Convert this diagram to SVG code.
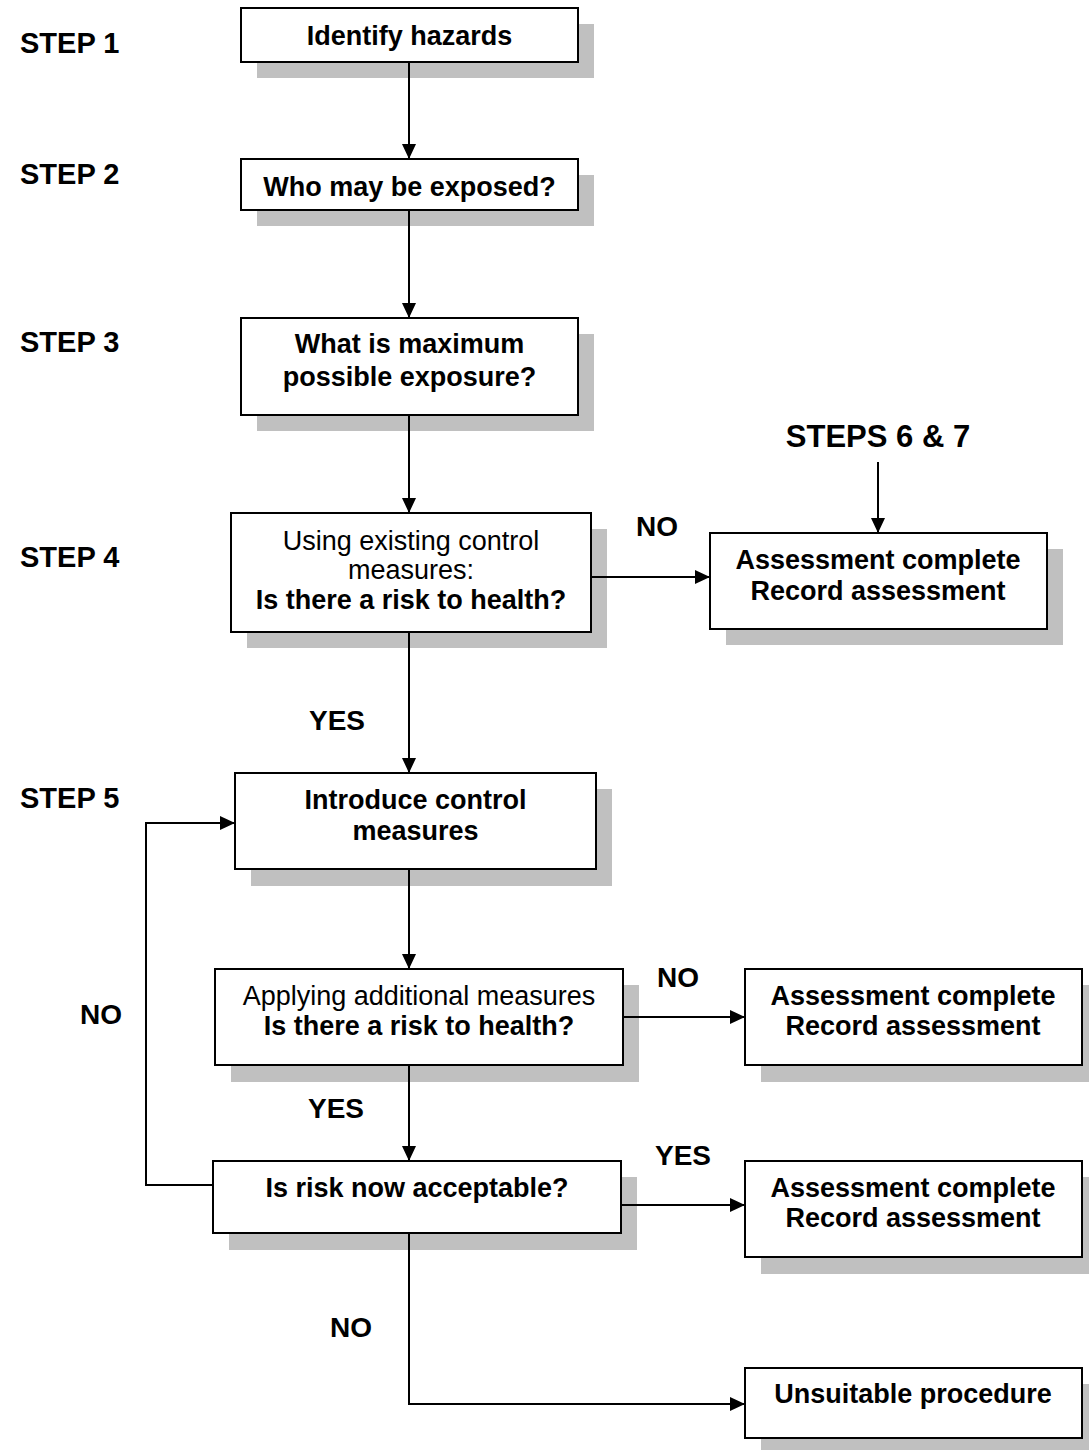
<svg xmlns="http://www.w3.org/2000/svg" width="1089" height="1450" viewBox="0 0 1089 1450">
  <style>
    text { font-family: "Liberation Sans", Arial, Helvetica, sans-serif; fill: #000; }
    .b { font-weight: bold; font-size: 27px; text-anchor: middle; }
    .r { font-weight: normal; font-size: 27px; text-anchor: middle; }
    .step { font-weight: bold; font-size: 29px; }
    .lbl { font-weight: bold; font-size: 28px; }
    .box { fill: #fff; stroke: #000; stroke-width: 2; }
    .shadow { fill: #c0c0c0; stroke: none; }
    .conn { fill: none; stroke: #000; stroke-width: 2; }
  </style>
  <defs>
    <marker id="arrow" markerUnits="userSpaceOnUse" markerWidth="15" markerHeight="14" viewBox="0 0 15 14" refX="15" refY="7" orient="auto">
      <path d="M0,0 L15,7 L0,14 z" fill="#000"/>
    </marker>
  </defs>
  <rect width="1089" height="1450" fill="#fff"/>

  <g id="step-labels">
    <text class="step" x="20" y="53">STEP 1</text>
    <text class="step" x="20" y="184">STEP 2</text>
    <text class="step" x="20" y="352">STEP 3</text>
    <text class="step" x="20" y="567">STEP 4</text>
    <text class="step" x="20" y="808">STEP 5</text>
    <text class="step" x="878" y="447" text-anchor="middle" style="font-size:31px">STEPS 6 &amp; 7</text>
  </g>

  <g id="n1">
    <rect class="shadow" x="257" y="24" width="337" height="54"/>
    <rect class="box" x="241" y="8" width="337" height="54"/>
    <text class="b" x="409.5" y="45">Identify hazards</text>
  </g>
  <g id="n2">
    <rect class="shadow" x="257" y="175" width="337" height="51"/>
    <rect class="box" x="241" y="159" width="337" height="51"/>
    <text class="b" x="409.5" y="196">Who may be exposed?</text>
  </g>
  <g id="n3">
    <rect class="shadow" x="257" y="334" width="337" height="97"/>
    <rect class="box" x="241" y="318" width="337" height="97"/>
    <text class="b" x="409.5" y="353">What is maximum</text>
    <text class="b" x="409.5" y="386">possible exposure?</text>
  </g>
  <g id="n4">
    <rect class="shadow" x="247" y="529" width="360" height="119"/>
    <rect class="box" x="231" y="513" width="360" height="119"/>
    <text class="r" x="411" y="550">Using existing control</text>
    <text class="r" x="411" y="579">measures:</text>
    <text class="b" x="411" y="609">Is there a risk to health?</text>
  </g>
  <g id="a1">
    <rect class="shadow" x="726" y="549" width="337" height="96"/>
    <rect class="box" x="710" y="533" width="337" height="96"/>
    <text class="b" x="878" y="569">Assessment complete</text>
    <text class="b" x="878" y="600">Record assessment</text>
  </g>
  <g id="n5">
    <rect class="shadow" x="251" y="789" width="361" height="97"/>
    <rect class="box" x="235" y="773" width="361" height="96"/>
    <text class="b" x="415.5" y="809">Introduce control</text>
    <text class="b" x="415.5" y="840">measures</text>
  </g>
  <g id="n6">
    <rect class="shadow" x="231" y="985" width="408" height="97"/>
    <rect class="box" x="215" y="969" width="408" height="96"/>
    <text class="r" x="419" y="1005">Applying additional measures</text>
    <text class="b" x="419" y="1035">Is there a risk to health?</text>
  </g>
  <g id="a2">
    <rect class="shadow" x="761" y="985" width="337" height="97"/>
    <rect class="box" x="745" y="969" width="337" height="96"/>
    <text class="b" x="913" y="1005">Assessment complete</text>
    <text class="b" x="913" y="1035">Record assessment</text>
  </g>
  <g id="n7">
    <rect class="shadow" x="229" y="1177" width="408" height="73"/>
    <rect class="box" x="213" y="1161" width="408" height="72"/>
    <text class="b" x="417" y="1197">Is risk now acceptable?</text>
  </g>
  <g id="a3">
    <rect class="shadow" x="761" y="1177" width="337" height="97"/>
    <rect class="box" x="745" y="1161" width="337" height="96"/>
    <text class="b" x="913" y="1197">Assessment complete</text>
    <text class="b" x="913" y="1227">Record assessment</text>
  </g>
  <g id="u1">
    <rect class="shadow" x="761" y="1384" width="337" height="70"/>
    <rect class="box" x="745" y="1368" width="337" height="70"/>
    <text class="b" x="913" y="1403">Unsuitable procedure</text>
  </g>

  <g id="connectors">
    <line class="conn" x1="409" y1="62" x2="409" y2="159" marker-end="url(#arrow)"/>
    <line class="conn" x1="409" y1="210" x2="409" y2="318" marker-end="url(#arrow)"/>
    <line class="conn" x1="409" y1="415" x2="409" y2="513" marker-end="url(#arrow)"/>
    <line class="conn" x1="591" y1="577" x2="710" y2="577" marker-end="url(#arrow)"/>
    <line class="conn" x1="878" y1="462" x2="878" y2="533" marker-end="url(#arrow)"/>
    <line class="conn" x1="409" y1="632" x2="409" y2="773" marker-end="url(#arrow)"/>
    <line class="conn" x1="409" y1="869" x2="409" y2="969" marker-end="url(#arrow)"/>
    <line class="conn" x1="623" y1="1017" x2="745" y2="1017" marker-end="url(#arrow)"/>
    <line class="conn" x1="409" y1="1065" x2="409" y2="1161" marker-end="url(#arrow)"/>
    <line class="conn" x1="621" y1="1205" x2="745" y2="1205" marker-end="url(#arrow)"/>
    <polyline class="conn" points="213,1185 146,1185 146,823 235,823" marker-end="url(#arrow)"/>
    <polyline class="conn" points="409,1233 409,1404 745,1404" marker-end="url(#arrow)"/>
    <text class="lbl" x="636" y="536">NO</text>
    <text class="lbl" x="309" y="730">YES</text>
    <text class="lbl" x="657" y="987">NO</text>
    <text class="lbl" x="80" y="1024">NO</text>
    <text class="lbl" x="308" y="1118">YES</text>
    <text class="lbl" x="655" y="1165">YES</text>
    <text class="lbl" x="330" y="1337">NO</text>
  </g>
</svg>
